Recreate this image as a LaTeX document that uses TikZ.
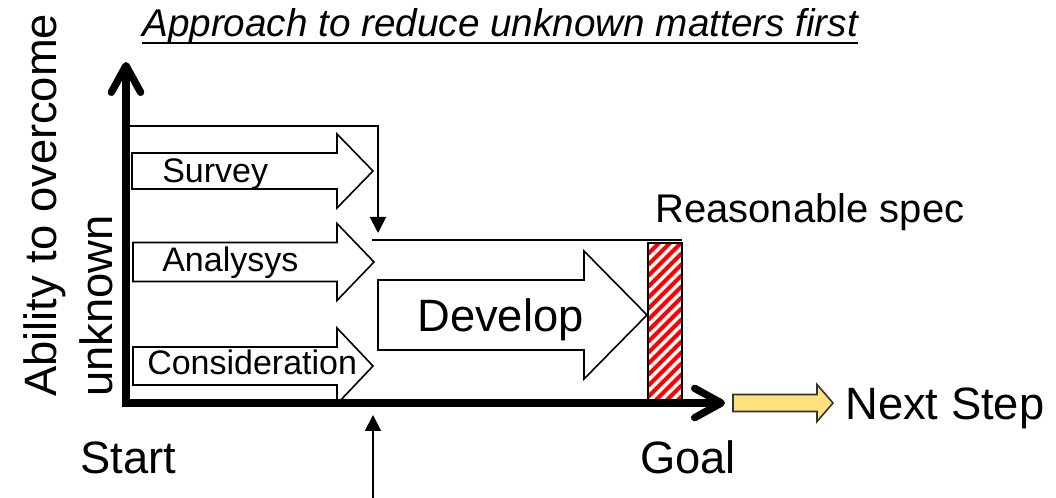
\documentclass[tikz,border=0pt]{standalone}
\usepackage{fontspec}
\setmainfont{Liberation Sans}
\usepackage{tikz}
\usetikzlibrary{arrows.meta}
\definecolor{ink}{HTML}{000000}
\definecolor{hatchred}{HTML}{FF0000}
\definecolor{nextyellow}{HTML}{FFE07A}
\newcommand{\blockarrow}[7][]{%
  \draw[blk,#1] (#2,#5-#6) -- (#3,#5-#6) -- (#3,#5-#7) -- (#4,#5)
    -- (#3,#5+#7) -- (#3,#5+#6) -- (#2,#5+#6) -- cycle;}
\tikzset{
  axistip/.tip={Straight Barb[length=20pt,width=22pt,line cap=round,line join=round]},
  ptrtip/.tip={Triangle[length=12pt,width=12pt]}
}

\begin{document}
\begin{tikzpicture}[x=0.75pt,y=-0.75pt,
  blk/.style={draw=ink, line width=1.2pt, fill=white, line join=miter},
  axis/.style={draw=ink, line width=5.5pt, line join=miter},
  thinline/.style={draw=ink, line width=1.5pt},
  lbl/.style={inner sep=0pt, anchor=base west, text=ink, font=\fontsize{25.5}{30}\selectfont},
  biglbl/.style={lbl, font=\fontsize{34}{40}\selectfont},
  midlbl/.style={lbl, font=\fontsize{30}{36}\selectfont}]
  \useasboundingbox (0,0) rectangle (1056,498);

  \node[lbl, font=\fontsize{29}{35}\selectfont\itshape] (title) at (142,37) {Approach to reduce unknown matters first};
  \draw[ink, line width=1.8pt] ([yshift=-4.5pt]title.base west) -- ([yshift=-4.5pt]title.base east);

  \node[biglbl, rotate=90] (ylabA) at (56,397) {Ability to overcome};
  \node[biglbl, rotate=90] (ylabB) at (112,397) {unknown};

  \blockarrow{132}{337}{373}{171}{18}{37}
  \blockarrow{133}{337}{374}{262}{19.5}{38.5}
  \blockarrow{133}{337}{373}{366}{19}{38}
  \blockarrow{378}{584}{647}{315}{35}{64}
  \blockarrow[draw=ink!80, fill=nextyellow]{733}{817}{833}{403}{8.5}{18.5}

  \node[lbl] (survey) at (162,183) {Survey};
  \node[lbl] (analysys) at (162,272) {Analysys};
  \node[lbl] (consider) at (147,375) {Consideration};
  \node[biglbl] (develop) at (417,332) {Develop};
  \node[midlbl] (spec) at (655,223) {Reasonable spec};
  \node[biglbl] (start) at (80,474) {Start};
  \node[biglbl] (goal) at (640,474) {Goal};
  \node[biglbl] (nextstep) at (845,420) {Next Step};

  \begin{scope}
    \clip (648,243) rectangle (682,403);
    \foreach \y in {243,254,...,460}
      \draw[hatchred, line width=3pt] (648,\y) -- (682,\y-34);
  \end{scope}
  \draw[ink, line width=1.2pt] (648,243) rectangle (682,403);

  \coordinate (brkstart) at (130,126);
  \coordinate (brkend) at (378,233);
  \draw[thinline, -{ptrtip}] (brkstart) -| (brkend);
  \coordinate (speclft) at (372,240);
  \coordinate (specrgt) at (682,240);
  \draw[thinline] (speclft) -- (specrgt);
  \coordinate (belowstart) at (373,498);
  \coordinate (belowtip) at (373,415);
  \draw[thinline, -{ptrtip}] (belowstart) -- (belowtip);

  \coordinate (ytop) at (126,62);
  \coordinate (origin) at (126,403);
  \coordinate (xend) at (725,403);
  \draw[axis, {axistip}-{axistip}] (ytop) -- (origin) -- (xend);
\end{tikzpicture}
\end{document}
